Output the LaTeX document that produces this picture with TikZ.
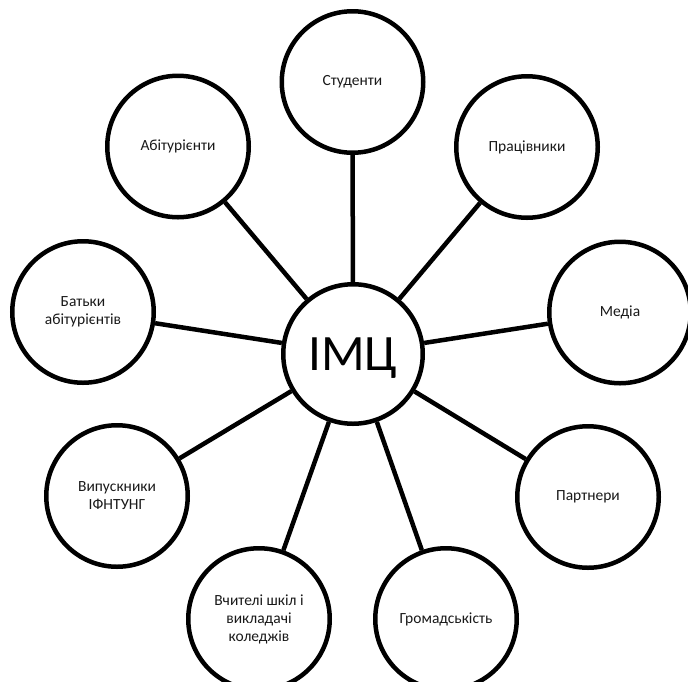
\documentclass[tikz,border=0pt]{standalone}
\usepackage{fontspec}
\setmainfont{Carlito}
\begin{document}
\begin{tikzpicture}[x=1pt,y=-1pt,
  outer/.style={circle,draw=black,line width=4.5pt,minimum size=141.5pt,inner sep=0pt,
    align=center,font=\fontsize{15.5}{18}\selectfont,text=black!90},
  hub/.style={circle,draw=black,line width=4.5pt,minimum size=139.5pt,inner sep=0pt,
    font=\fontsize{51}{60}\selectfont,text depth=0pt},
  link/.style={line width=4.5pt}]
\useasboundingbox (0,0) rectangle (688,681);
\node[hub] (c) at (353,354) {ІМЦ};
\node[outer] (stud) at (352.5,82) {Студенти};
\node[outer] (abit) at (178,146.5) {Абітурієнти};
\node[outer] (prac) at (527,147) {Працівники};
\node[outer] (bat) at (83,312) {Батьки\\абітурієнтів};
\node[outer] (med) at (620,312.5) {Медіа};
\node[outer] (vyp) at (117,496) {Випускники\\ІФНТУНГ};
\node[outer] (part) at (588,497) {Партнери};
\node[outer] (vch) at (259,619) {Вчителі шкіл і\\викладачі\\коледжів};
\node[outer] (grom) at (446,619) {Громадськість};
\foreach \n in {stud,abit,prac,bat,med,vyp,part,vch,grom}
  \draw[link] (c) -- (\n);
\end{tikzpicture}
\end{document}
